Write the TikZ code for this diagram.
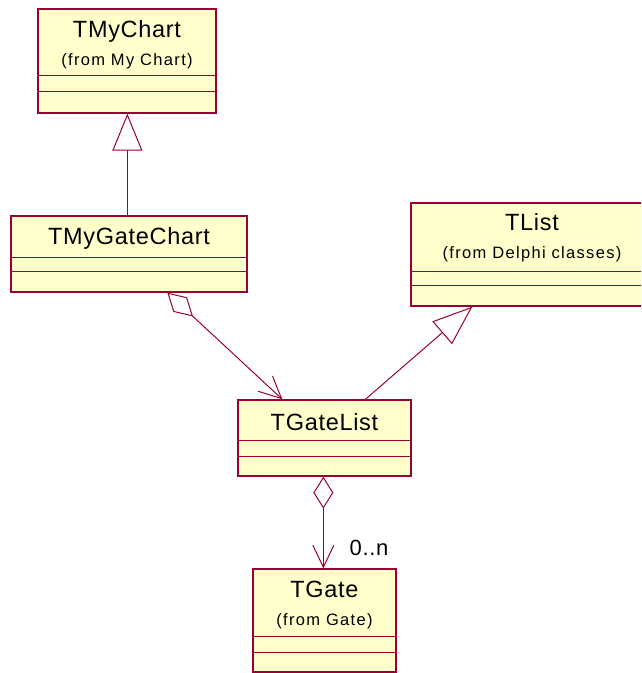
\documentclass[tikz,border=0pt]{standalone}
\usepackage{fontspec}
\setmainfont{Liberation Sans}
\newfontfamily\titlefont[LetterSpace=3]{Liberation Sans}
\newfontfamily\subfont[LetterSpace=8]{Liberation Sans}
\usetikzlibrary{arrows.meta,calc}
\definecolor{umlline}{HTML}{990033}
\definecolor{umlfill}{HTML}{FFFFCC}
\tikzset{
  cls/.style={draw=umlline, fill=umlfill, line width=1.3pt, rectangle, inner sep=0pt},
  title/.style={font=\titlefont\fontsize{23.5}{25}\selectfont, text=black, inner sep=0pt, anchor=base},
  subtitle/.style={font=\subfont\fontsize{16.5}{18}\selectfont, text=black, inner sep=0pt, anchor=base},
  comp/.style={draw=umlline, line width=1pt},
  link/.style={draw=umlline, line width=1pt},
  gen/.style={link, -{Triangle[open, length=#1, width=30pt, fill=white]}},
  agg/.style={link, {Diamond[open, length=#1, width=20pt, fill=white]}-{Straight Barb[length=22pt, width=21pt]}},
}
\begin{document}
\begin{tikzpicture}[x=1pt,y=-1pt]
\useasboundingbox (0,0) rectangle (641,673);
\clip (0,0) rectangle (641,673);

% TMyChart
\node[cls, minimum width=178pt, minimum height=104pt] (mychart) at (127,61) {};
\node[title] (mychartT) at (127,37) {TMyChart};
\node[subtitle] (mychartS) at (127,65) {(from My Chart)};
\draw[comp] (mychart.west |- 0,75) -- (mychart.east |- 0,75);
\draw[comp] (mychart.west |- 0,91) -- (mychart.east |- 0,91);

% TMyGateChart
\node[cls, minimum width=236pt, minimum height=76pt] (mygate) at (129,254) {};
\node[title] (mygateT) at (129,244) {TMyGateChart};
\draw[comp] (mygate.west |- 0,257) -- (mygate.east |- 0,257);
\draw[comp] (mygate.west |- 0,271) -- (mygate.east |- 0,271);

% TList
\node[cls, minimum width=242pt, minimum height=103pt] (tlist) at (532,254.5) {};
\node[title] (tlistT) at (532,230) {TList};
\node[subtitle] (tlistS) at (532,258) {(from Delphi classes)};
\draw[comp] (tlist.west |- 0,271) -- (tlist.east |- 0,271);
\draw[comp] (tlist.west |- 0,285) -- (tlist.east |- 0,285);

% TGateList
\node[cls, minimum width=173pt, minimum height=76pt] (gatelist) at (324.5,438) {};
\node[title] (gatelistT) at (324.5,430) {TGateList};
\draw[comp] (gatelist.west |- 0,440) -- (gatelist.east |- 0,440);
\draw[comp] (gatelist.west |- 0,456) -- (gatelist.east |- 0,456);

% TGate
\node[cls, minimum width=143pt, minimum height=103pt] (gate) at (324.5,620.5) {};
\node[title] (gateT) at (324.5,597) {TGate};
\node[subtitle] (gateS) at (324.5,625) {(from Gate)};
\draw[comp] (gate.west |- 0,636) -- (gate.east |- 0,636);
\draw[comp] (gate.west |- 0,652) -- (gate.east |- 0,652);

% connectors
\draw[gen=37pt] ($(mygate.north west)+(117,0)$) -- ($(mychart.south west)+(90,0)$);
\draw[gen=40pt] ($(gatelist.north west)+(128,0)$) -- ($(tlist.south west)+(62,0)$);
\draw[agg=35pt] ($(mygate.south west)+(157,0)$) -- ($(gatelist.north west)+(45,0)$);
\draw[agg=32pt] ($(gatelist.south west)+(86,0)$) -- ($(gate.north west)+(71,0)$);

\node[font=\titlefont\fontsize{22}{24}\selectfont, anchor=base, inner sep=0pt] (mult) at (369,555) {0..n};
\end{tikzpicture}
\end{document}
